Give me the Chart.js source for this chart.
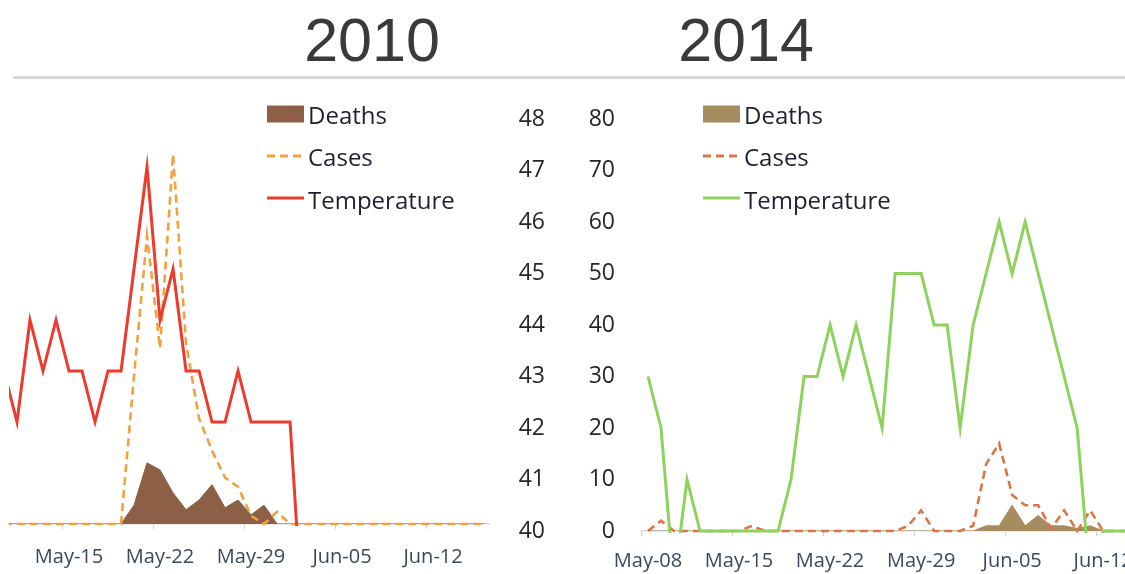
<!DOCTYPE html>
<html>
<head>
<meta charset="utf-8">
<script src="https://cdn.jsdelivr.net/npm/chart.js@4.4.1/dist/chart.umd.min.js"></script>
<style>
html,body{margin:0;padding:0;background:#fff;}
body{width:1125px;height:574px;overflow:hidden;position:relative;}
.title{position:absolute;top:10px;width:200px;text-align:center;font-family:"Liberation Sans",Arial,sans-serif;font-size:61px;line-height:61px;color:#3a3a3a;}
.rule{position:absolute;left:13px;right:0;top:76px;height:3px;background:#d9d9d9;}
canvas{position:absolute;top:0;}
.legend{position:absolute;top:93px;font-family:"Open Sans",sans-serif;font-size:24px;color:#1f2030;}
.row{position:absolute;left:0;height:42px;display:flex;align-items:center;white-space:nowrap;}
.row svg{margin-right:4px;display:block;}
</style>
</head>
<body>
<div class="title" style="left:272px">2010</div>
<div class="title" style="left:646px">2014</div>
<div class="rule"></div>
<canvas id="c2010" width="500" height="574" style="left:0px"></canvas>
<canvas id="c2014" width="660" height="574" style="left:500px"></canvas>
<script>
// ---------- 2010 data ----------
const leftDates = ['May-10','May-11','May-12','May-13','May-14','May-15','May-16','May-17','May-18','May-19',
  'May-20','May-21','May-22','May-23','May-24','May-25','May-26','May-27','May-28','May-29',
  'May-30','May-31','Jun-01','Jun-02','Jun-03','Jun-04','Jun-05','Jun-06','Jun-07','Jun-08',
  'Jun-09','Jun-10','Jun-11','Jun-12','Jun-13','Jun-14','Jun-15','Jun-16'];
const leftDeaths = [0,0,0,0,0,0,0,0,0,0, 3.7,12,10.6,6.1,2.8,4.7,7.7,3.2,4.7,1.8, 3.7,0,0,0,0,0,0,0,0,0, 0,0,0,0,0,0,0,0];
const leftCases  = [0,0,0,0,0,0,0,0,0,0, 29,56.5,34.5,72.5,35.5,20.7,14.4,9.1,7.3,1.6, 0,2.4,0,0,0,0,0,0,0,0, 0,0,0,0,0,0,0,0];
const leftTemp   = [43,42,44,43,44,43,43,42,43,43, 45,47,44,45,43,43,42,42,43,42, 42,42,42,38,null,null,null,null,null,null,
  null,null,null,null,null,null,null,null];
const leftTickLabels = ['May-15','May-22','May-29','Jun-05','Jun-12'];

// ---------- 2014 data ----------
const rightDates = ['May-08','May-09','May-10','May-11','May-12','May-13','May-14','May-15','May-16','May-17',
  'May-18','May-19','May-20','May-21','May-22','May-23','May-24','May-25','May-26','May-27',
  'May-28','May-29','May-30','May-31','Jun-01','Jun-02','Jun-03','Jun-04','Jun-05','Jun-06',
  'Jun-07','Jun-08','Jun-09','Jun-10','Jun-11','Jun-12','Jun-13','Jun-14','Jun-15','Jun-16'];
const rightDeaths = [0,0,0,0,0,0,0,0,0,0, 0,0,0,0,0,0,0,0,0,0, 0,0,0,0,0,0,1,1,5,1, 3,1,1,0.5,1,0,0,0,0,0];
const rightCases  = [0,2,0,0,0,0,0,0,1,0, 0,0,0,0,0,0,0,0,0,0, 1,4,0,0,0,1,13,17,7,5, 5,0.5,4,0,4,0,0,0,0,0];
const rightTemp   = [43,42,39,41,40,40,40,40,40,40, 40,41,43,43,44,43,44,43,42,45, 45,45,44,44,42,44,45,46,45,46, 45,44,43,42,39,40,40,40,40,40];
const rightTickLabels = ['May-08','May-15','May-22','May-29','Jun-05','Jun-12'];

const seriesNames = ['Deaths','Cases','Temperature'];

// ---------- styles ----------
const leftStyle  = {deaths:'#8c5f46', cases:'#f0a23c', temp:'#ec3b2c'};
const rightStyle = {deaths:'#a68c5e', cases:'#dc7446', temp:'#8ed25e'};
const tickFont = {family:'Open Sans', size:20};
const yFont = {family:'Open Sans', size:23};

function pts(dates, vals){ return dates.map((d,i)=>({x:i, y:vals[i]})); }

function xAxis(dates, tickLabels, min, max, pad, height){
  const idx = tickLabels.map(l => dates.indexOf(l));
  return {
    type:'linear', position:'bottom', min:min, max:max, bounds:'data',
    afterBuildTicks: ax => { ax.ticks = idx.map(i => ({value:i - 0.5})); },
    afterFit: s => { s.height = height; },
    grid:{display:true, drawOnChartArea:false, drawTicks:true, tickLength:5, color:'#d0d0d0', lineWidth:1},
    border:{display:true, color:'#d9d9d9', width:1.5},
    ticks:{autoSkip:false, maxRotation:0, minRotation:0, labelOffset:6.5, padding:pad,
      color:'#3c4858', font:tickFont,
      callback: v => { const d = dates[Math.round(v + 0.5)]; return d === undefined ? '' : d; }}
  };
}

function datasets(dates, deaths, cases, temp, st){
  return [
    {label:seriesNames[2], data:pts(dates,temp), yAxisID:'yT', borderColor:st.temp, borderWidth:3,
      pointRadius:0, tension:0, fill:false, order:0, spanGaps:false, clip:{left:0,top:0,right:0,bottom:2}},
    {label:seriesNames[1], data:pts(dates,cases), yAxisID:'y', borderColor:st.cases, borderWidth:2.6,
      borderDash:[8,5], pointRadius:0, tension:0, fill:false, order:1, clip:{left:0,top:0,right:0,bottom:2}},
    {label:seriesNames[0], data:pts(dates,deaths), yAxisID:'y', borderColor:st.deaths, backgroundColor:st.deaths,
      borderWidth:1, pointRadius:0, tension:0, fill:'origin', order:2}
  ];
}

const common = {
  responsive:false, animation:false, devicePixelRatio:1,
  plugins:{legend:{display:false}, tooltip:{enabled:false}, title:{display:false}},
  elements:{line:{borderJoinStyle:'miter'}}
};

// 2010 chart (temperature / cases axes hidden, cropped panel)
new Chart(document.getElementById('c2010'), {
  type:'line',
  data:{datasets:datasets(leftDates, leftDeaths, leftCases, leftTemp, leftStyle)},
  options:Object.assign({}, common, {
    layout:{padding:{left:9, right:11, top:116, bottom:0}},
    scales:{
      x: xAxis(leftDates, leftTickLabels, 0.385, 37.3, 16, 50),
      y: {type:'linear', display:false, min:0, max:80},
      yT:{type:'linear', display:false, min:40, max:48}
    }
  })
});

// 2014 chart with both visible axes
new Chart(document.getElementById('c2014'), {
  type:'line',
  data:{datasets:datasets(rightDates, rightDeaths, rightCases, rightTemp, rightStyle)},
  options:Object.assign({}, common, {
    layout:{padding:{left:0, right:10, top:119, bottom:0}},
    scales:{
      x: xAxis(rightDates, rightTickLabels, -0.5, 38.6, 13, 43),
      yT:{type:'linear', position:'left', weight:1, min:40, max:48,
        afterFit: s => { s.width = 70; },
        grid:{display:false, drawTicks:false}, border:{display:false},
        ticks:{stepSize:1, padding:25, color:'#262626', font:yFont}},
      y:{type:'linear', position:'left', weight:0, min:0, max:80,
        afterFit: s => { s.width = 71.5; },
        grid:{display:false, drawTicks:false}, border:{display:false},
        ticks:{stepSize:10, padding:26.5, color:'#262626', font:yFont}}
    }
  })
});

// HTML legends built from series names and colors
function legend(left, st){
  const box = document.createElement('div');
  box.className = 'legend';
  box.style.left = left + 'px';
  const markers = [
    `<svg width="37" height="18"><rect x="0" y="0.5" width="37" height="17" fill="${st.deaths}"/></svg>`,
    `<svg width="37" height="18"><line x1="0" y1="8" x2="37" y2="8" stroke="${st.cases}" stroke-width="3" stroke-dasharray="8,5"/></svg>`,
    `<svg width="37" height="18"><line x1="0" y1="8" x2="37" y2="8" stroke="${st.temp}" stroke-width="3"/></svg>`
  ];
  seriesNames.forEach((name, i) => {
    const row = document.createElement('div');
    row.className = 'row';
    row.style.top = (i * 42.5) + 'px';
    row.innerHTML = markers[i] + '<span>' + name + '</span>';
    box.appendChild(row);
  });
  document.body.appendChild(box);
}
legend(267, leftStyle);
legend(703, rightStyle);
</script>
</body>
</html>
